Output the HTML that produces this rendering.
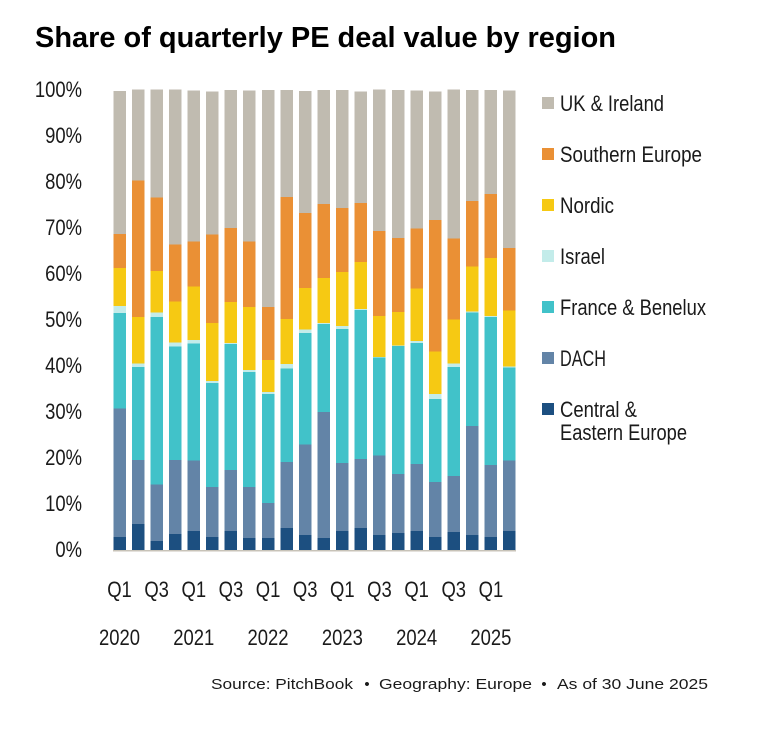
<!DOCTYPE html>
<html lang="en">
<head>
<meta charset="utf-8">
<title>Share of quarterly PE deal value by region</title>
<style>
html,body{margin:0;padding:0;background:#fff;width:772px;height:730px;overflow:hidden}
svg{display:block}
text{font-family:"Liberation Sans",sans-serif;fill:#1a1a1a;white-space:pre}
</style>
</head>
<body>
<svg id="chart" width="772" height="730" viewBox="0 0 772 730" xmlns="http://www.w3.org/2000/svg">
  <text x="35" y="47" font-size="28.5" font-weight="700" style="fill:#000" textLength="581" lengthAdjust="spacingAndGlyphs">Share of quarterly PE deal value by region</text>
  <g id="y-axis"></g>
  <g id="bars"></g>
  <rect x="113" y="550" width="403" height="1.5" fill="#c8c3b8"></rect>
  <g id="x-axis"></g>
  <g id="legend">
    <g>
      <rect x="542" y="97" width="12" height="12" fill="#c0bbb0"></rect>
      <text x="560" y="111" font-size="22" textLength="104" lengthAdjust="spacingAndGlyphs">UK &amp; Ireland</text>
    </g>
    <g>
      <rect x="542" y="148" width="12" height="12" fill="#ea9035"></rect>
      <text x="560" y="162" font-size="22" textLength="142" lengthAdjust="spacingAndGlyphs">Southern Europe</text>
    </g>
    <g>
      <rect x="542" y="199" width="12" height="12" fill="#f6c913"></rect>
      <text x="560" y="213" font-size="22" textLength="54" lengthAdjust="spacingAndGlyphs">Nordic</text>
    </g>
    <g>
      <rect x="542" y="250" width="12" height="12" fill="#c3ecea"></rect>
      <text x="560" y="264" font-size="22" textLength="45" lengthAdjust="spacingAndGlyphs">Israel</text>
    </g>
    <g>
      <rect x="542" y="301" width="12" height="12" fill="#41c2c9"></rect>
      <text x="560" y="315" font-size="22" textLength="146" lengthAdjust="spacingAndGlyphs">France &amp; Benelux</text>
    </g>
    <g>
      <rect x="542" y="352" width="12" height="12" fill="#6384a7"></rect>
      <text x="560" y="366" font-size="22" textLength="46" lengthAdjust="spacingAndGlyphs">DACH</text>
    </g>
    <g>
      <rect x="542" y="403" width="12" height="12" fill="#1c4f80"></rect>
      <text x="560" y="417" font-size="22" textLength="77" lengthAdjust="spacingAndGlyphs">Central &amp;</text>
      <text x="560" y="440" font-size="22" textLength="127" lengthAdjust="spacingAndGlyphs">Eastern Europe</text>
    </g>
  </g>
  <g>
    <text x="211" y="689" font-size="15" textLength="142" lengthAdjust="spacingAndGlyphs">Source: PitchBook</text>
    <text x="367" y="689" font-size="15" text-anchor="middle">•</text>
    <text x="379" y="689" font-size="15" textLength="153" lengthAdjust="spacingAndGlyphs">Geography: Europe</text>
    <text x="544" y="689" font-size="15" text-anchor="middle">•</text>
    <text x="557" y="689" font-size="15" textLength="151" lengthAdjust="spacingAndGlyphs">As of 30 June 2025</text>
  </g>
</svg>
<script>
const quarters = ["Q1 2020","Q2 2020","Q3 2020","Q4 2020","Q1 2021","Q2 2021","Q3 2021","Q4 2021","Q1 2022","Q2 2022","Q3 2022","Q4 2022","Q1 2023","Q2 2023","Q3 2023","Q4 2023","Q1 2024","Q2 2024","Q3 2024","Q4 2024","Q1 2025","Q2 2025"];
const centralEastern = [2.8,5.7,2.0,3.5,4.1,2.8,4.1,2.6,2.6,4.8,3.3,2.6,4.1,4.8,3.3,3.7,4.1,2.8,3.9,3.3,2.8,4.1];
const dach = [28.0,13.9,12.2,16.1,15.4,10.9,13.3,11.1,7.6,14.3,19.6,27.4,14.8,15.0,17.2,12.8,14.6,12.0,12.2,23.7,15.7,15.4];
const franceBenelux = [20.7,20.2,36.5,24.6,25.4,22.6,27.4,25.0,23.7,20.4,24.3,19.1,29.1,32.4,21.3,27.8,26.3,18.0,23.7,24.6,32.2,20.2];
const israel = [1.5,0.7,0.9,0.9,0.7,0.4,0.2,0.4,0.4,0.9,0.7,0.2,0.7,0.2,0.2,0.2,0.4,1.1,0.7,0.2,0.2,0.2];
const nordic = [8.3,10.2,9.1,8.9,11.7,12.6,8.9,13.7,7.0,9.8,9.1,9.8,11.7,10.2,8.9,7.2,11.5,9.3,9.6,9.8,12.6,12.2];
const southernEurope = [7.4,29.6,15.9,12.4,9.8,19.3,16.1,14.3,11.5,26.5,16.3,16.1,13.9,12.8,18.5,16.1,13.0,28.5,17.6,14.3,13.9,13.5];
const ukIreland = [31.1,19.8,23.5,33.7,32.8,31.1,30.0,32.8,47.2,23.3,26.5,24.8,25.7,24.3,30.7,32.2,30.0,28.0,32.4,24.1,22.6,34.3];
const seriesNames = ["central-eastern-europe","dach","france-benelux","israel","nordic","southern-europe","uk-ireland"];
const yTickValues = [0,10,20,30,40,50,60,70,80,90,100];
const quarterTickLabels = ["Q1","","Q3","","Q1","","Q3","","Q1","","Q3","","Q1","","Q3","","Q1","","Q3","","Q1",""];
const yearTickLabels = ["2020","","","","2021","","","","2022","","","","2023","","","","2024","","","","2025",""];

const seriesValues = [centralEastern,dach,franceBenelux,israel,nordic,southernEurope,ukIreland];
const seriesColors = ["#1c4f80","#6384a7","#41c2c9","#c3ecea","#f6c913","#ea9035","#c0bbb0"];
const SVG_NS = "http://www.w3.org/2000/svg";
const PLOT_BOTTOM = 550, PLOT_HEIGHT = 460, FIRST_CENTER = 119.5, STEP = 18.57, BAR_WIDTH = 12.5, TEXT_SQUEEZE = 0.82;

function yScale(v){ return PLOT_BOTTOM - v / 100 * PLOT_HEIGHT; }
function xScale(i){ return FIRST_CENTER + i * STEP; }

function makeLabel(parent, text, x, y, anchor){
  const el = document.createElementNS(SVG_NS, "text");
  el.setAttribute("transform", "translate(" + x + "," + y + ") scale(" + TEXT_SQUEEZE + ",1)");
  el.setAttribute("font-size", "22.5");
  el.setAttribute("text-anchor", anchor);
  el.textContent = text;
  parent.appendChild(el);
  return el;
}

const yAxis = document.getElementById("y-axis");
yTickValues.forEach(function(v){
  const el = makeLabel(yAxis, v + "%", 82, yScale(v) + 7, "end");
  
  
});

const xAxis = document.getElementById("x-axis");
quarters.forEach(function(q, i){
  if (quarterTickLabels[i]) {
    const qEl = makeLabel(xAxis, quarterTickLabels[i], xScale(i), 597, "middle");
    
    
  }
  if (yearTickLabels[i]) {
    const yEl = makeLabel(xAxis, yearTickLabels[i], xScale(i), 645, "middle");
    
    
  }
});

const bars = document.getElementById("bars");
quarters.forEach(function(q, i){
  let cumulative = 0;
  seriesValues.forEach(function(values, s){
    const y0 = yScale(cumulative);
    cumulative += values[i];
    const y1 = yScale(cumulative);
    const rect = document.createElementNS(SVG_NS, "rect");
    
    
    rect.setAttribute("data-series", seriesNames[s]);
    rect.setAttribute("data-quarter", q);
    rect.setAttribute("x", xScale(i) - BAR_WIDTH / 2);
    rect.setAttribute("y", y1);
    rect.setAttribute("width", BAR_WIDTH);
    rect.setAttribute("height", Math.max(0, y0 - y1));
    rect.setAttribute("fill", seriesColors[s]);
    rect.setAttribute("shape-rendering", "crispEdges");
    bars.appendChild(rect);
  });
});
</script>
</body>
</html>
